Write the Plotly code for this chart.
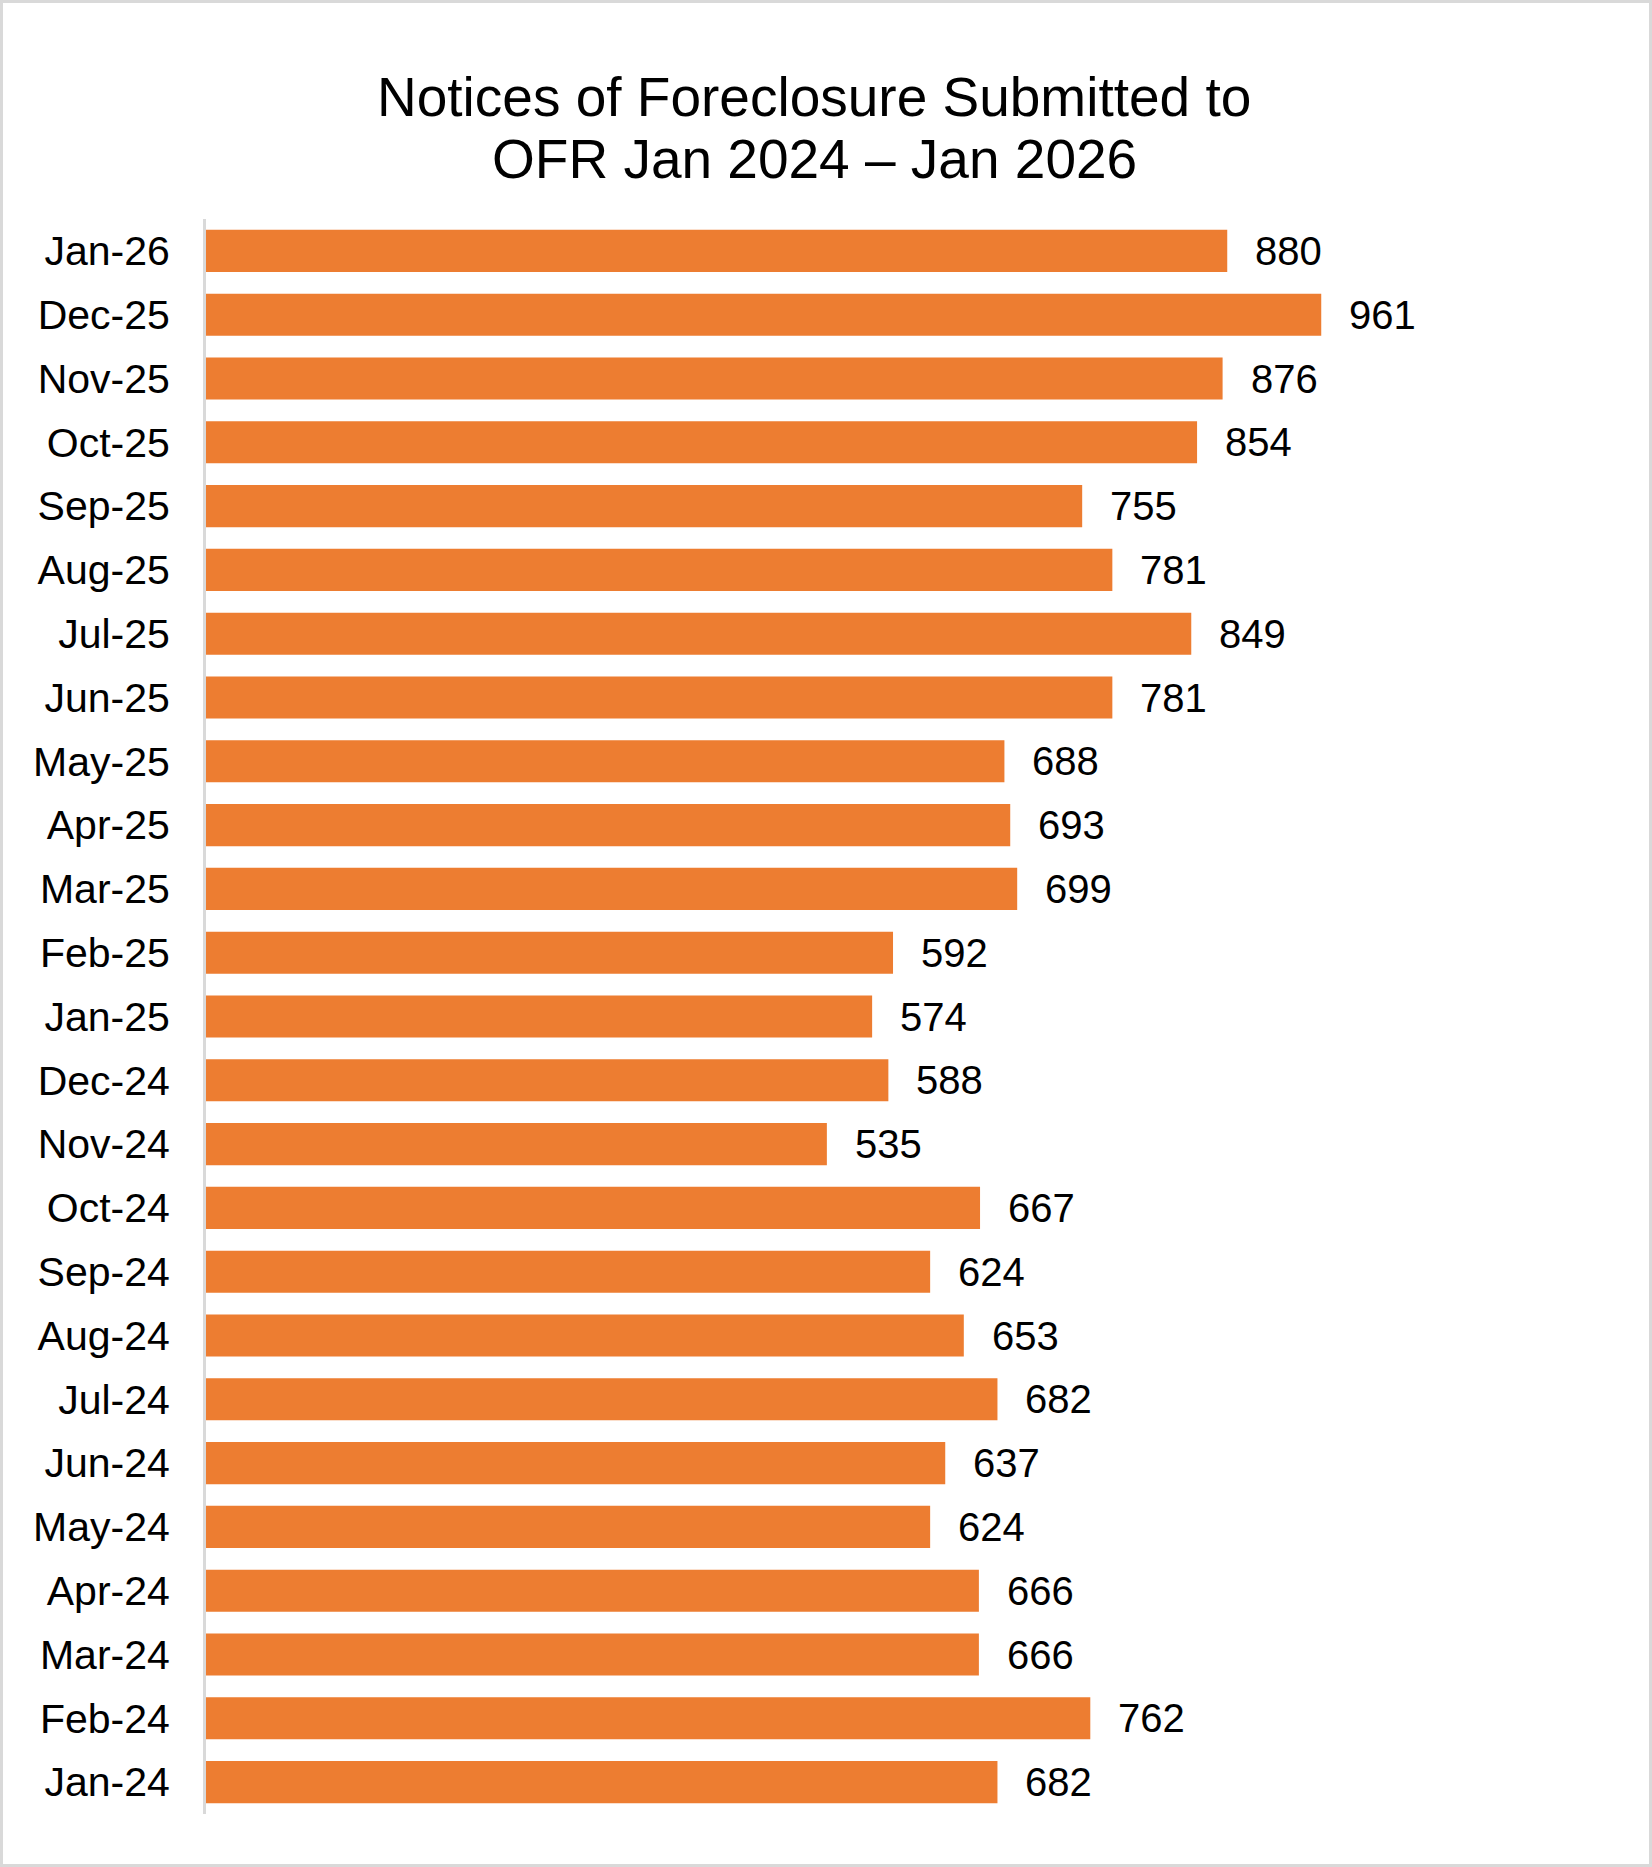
import plotly.graph_objects as go

months = ["Jan-24", "Feb-24", "Mar-24", "Apr-24", "May-24", "Jun-24", "Jul-24", "Aug-24",
          "Sep-24", "Oct-24", "Nov-24", "Dec-24", "Jan-25", "Feb-25", "Mar-25", "Apr-25",
          "May-25", "Jun-25", "Jul-25", "Aug-25", "Sep-25", "Oct-25", "Nov-25", "Dec-25", "Jan-26"]
notices = [682, 762, 666, 666, 624, 637, 682, 653, 624, 667, 535, 588, 574, 592, 699, 693,
           688, 781, 849, 781, 755, 854, 876, 961, 880]
title_lines = ["Notices of Foreclosure Submitted to", "OFR Jan 2024 \u2013 Jan 2026"]

W, H = 1652, 1867
ML, MR, MT, MB = 206, 52, 219, 53
PW = W - ML - MR
PH = H - MT - MB
PX_PER_UNIT = 1.1605
FONT = "Liberation Sans, Arial, sans-serif"
ORANGE = "#ED7D31"

fig = go.Figure()
fig.add_trace(go.Bar(
    x=notices, y=months, orientation="h",
    marker=dict(color=ORANGE, line=dict(width=0)),
    hoverinfo="x+y",
))

annotations = []
for m, v in zip(months, notices):
    annotations.append(dict(
        x=v, y=m, xref="x", yref="y", text=str(v), showarrow=False,
        xanchor="left", yanchor="middle", xshift=26, yshift=0,
        font=dict(family=FONT, size=40, color="#000000"),
    ))

def py(Y):
    return (H - MB - Y) / PH

title_cx = (814 - ML) / PW
for i, (line, yc) in enumerate(zip(title_lines, [97, 159])):
    annotations.append(dict(
        x=title_cx, y=py(yc), xref="paper", yref="paper", text=line, showarrow=False,
        xanchor="center", yanchor="middle",
        font=dict(family=FONT, size=55, color="#000000"),
    ))

fig.update_layout(
    width=W, height=H,
    margin=dict(l=ML, r=MR, t=MT, b=MB, pad=0),
    paper_bgcolor="white", plot_bgcolor="white",
    bargap=0.34,
    showlegend=False,
    annotations=annotations,
    font=dict(family=FONT, size=40, color="#000000"),
    xaxis=dict(range=[0, PW / PX_PER_UNIT], visible=False, showgrid=False, zeroline=False),
    yaxis=dict(
        type="category", categoryorder="array", categoryarray=months,
        showline=True, linecolor="#d9d9d9", linewidth=3,
        ticks="", ticklabelstandoff=25, showgrid=False, zeroline=False,
        tickfont=dict(family=FONT, size=41, color="#000000"),
    ),
    shapes=[dict(
        type="rect", xref="paper", yref="paper",
        x0=(1.5 - ML) / PW, x1=(W - 1.5 - ML) / PW,
        y0=py(H - 1.5), y1=py(1.5),
        line=dict(color="#d9d9d9", width=3), fillcolor="rgba(0,0,0,0)", layer="below",
    )],
)

fig.write_html("out.html", config={"displayModeBar": False},
               post_script="document.body.style.margin='0';document.body.style.overflow='hidden';")
